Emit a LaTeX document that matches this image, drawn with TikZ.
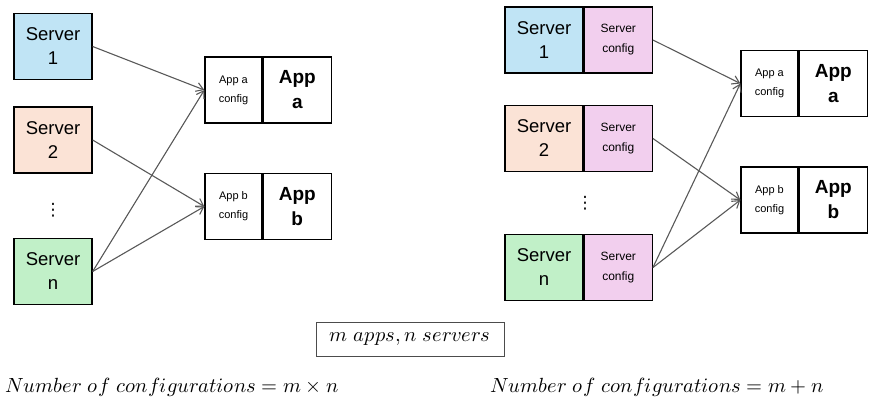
\documentclass[tikz,border=0pt]{standalone}
\usepackage{fontspec}
\usepackage{unicode-math}
\setmathfont{Latin Modern Math}
\setsansfont{Liberation Sans}
\newfontfamily\symfont{DejaVu Sans}
\usetikzlibrary{calc}
\usetikzlibrary{positioning}
\usetikzlibrary{arrows.meta}
\definecolor{srvblue}{HTML}{C0E4F5}
\definecolor{srvpeach}{HTML}{FBE3D6}
\definecolor{srvgreen}{HTML}{C1F0C8}
\definecolor{cfgpink}{HTML}{F2CFEE}
\definecolor{linkgray}{HTML}{595959}
\tikzset{
  box/.style={draw=black, line width=1.3pt, inner sep=0pt, align=center},
  srvbox/.style={box, minimum width=78pt, minimum height=66pt, font=\sffamily\fontsize{18.5}{24}\selectfont},
  scfgbox/.style={box, fill=cfgpink, minimum width=68pt, minimum height=66pt, font=\sffamily\fontsize{12}{20}\selectfont},
  cfgbox/.style={box, minimum width=57pt, minimum height=66pt, font=\sffamily\fontsize{11}{19}\selectfont},
  appbox/.style={box, minimum width=68pt, minimum height=66pt, font=\sffamily\bfseries\fontsize{19}{25}\selectfont},
  vdotsnode/.style={inner sep=0pt, font=\symfont\fontsize{17}{17}\selectfont},
  link/.style={draw=linkgray, line width=1.1pt, -{Straight Barb[length=7pt, width=9pt]}},
  eqn/.style={anchor=west, inner sep=0pt, font=\fontsize{20.5}{22}\selectfont}
}
\newcommand{\appnode}[4]{\node[cfgbox] (#1c) at (#2,#3) {App #4\\config}; \node[appbox, right=0pt of #1c] (#1) {App\\#4};}

\begin{document}
\begin{tikzpicture}[x=1pt, y=-1pt]
        \useasboundingbox (0,0) rectangle (876,402);

        % left
        \node[srvbox, fill=srvblue] (l1) at (53,46.5) {Server\\1};
        \node[srvbox, fill=srvpeach] (l2) at (53,140) {Server\\2};
        \node[vdotsnode] (ldots) at (53,210) {⋮};
        \node[srvbox, fill=srvgreen] (ln) at (53,271.5) {Server\\n};

        \appnode{la}{233.5}{90}{a}
        \appnode{lb}{233.5}{206.5}{b}

        \draw[link] (l1.east) -- (lac.west);
        \draw[link] (l2.east) -- (lbc.west);
        \draw[link] (ln.east) -- (lac.west);
        \draw[link] (ln.east) -- (lbc.west);

        % right
        \node[srvbox, fill=srvblue] (r1) at (544,40) {Server\\1};
        \node[scfgbox, right=0pt of r1] (r1c) {Server\\config};
        \node[srvbox, fill=srvpeach] (r2) at (544,138.5) {Server\\2};
        \node[scfgbox, right=0pt of r2] (r2c) {Server\\config};
        \node[vdotsnode] (rdots) at (585,203) {⋮};
        \node[srvbox, fill=srvgreen] (rn) at (544,267.5) {Server\\n};
        \node[scfgbox, right=0pt of rn] (rnc) {Server\\config};

        \appnode{ra}{769.5}{83.5}{a}
        \appnode{rb}{769.5}{200}{b}

        \draw[link] (r1c.east) -- (rac.west);
        \draw[link] (r2c.east) -- (rbc.west);
        \draw[link] (rnc.east) -- (rac.west);
        \draw[link] (rnc.east) -- (rbc.west);

        % bottom
        \node[draw=black!70, line width=0.8pt, minimum width=188pt, minimum height=34pt, font=\fontsize{20.5}{22}\selectfont] (note) at (410,339) {$m~apps, n~servers$};
        \node[eqn] (leq) at (5,387) {$Number~of~configurations = m \times n$};
        \node[eqn] (req) at (490,387) {$Number~of~configurations = m + n$};
\end{tikzpicture}
\end{document}
